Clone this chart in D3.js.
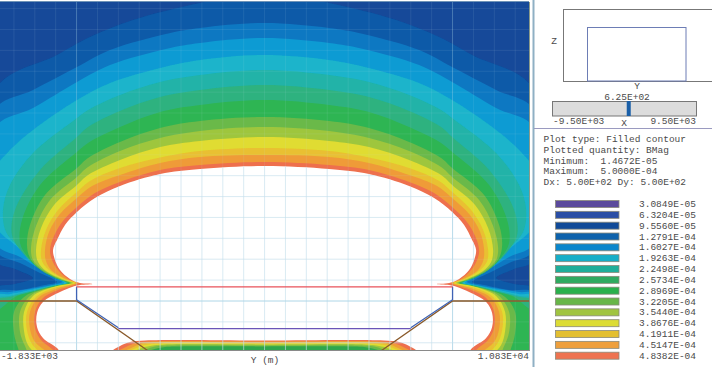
<!DOCTYPE html>
<html>
<head>
<meta charset="utf-8">
<script src="https://cdn.jsdelivr.net/npm/d3@7"></script>
<style>
  html, body { margin: 0; padding: 0; background: #fff; overflow: hidden; }
  svg { display: block; }
  text { font-family: "Liberation Mono", monospace; font-size: 9.5px; fill: #4a4a4a; }
</style>
</head>
<body>
<div id="chart"></div>
<script>
(function () {
  // Left half of each BMag contour, [Y, Z] in metres. The field is mirrored about Y = 4500.
  const contour3 = [[4500,7397],[2955,7134],[1351,6727],[322,6320],[-468,5889],[-1953,5051],[-1953,982],[-1474,766],[-1043,551],[-1474,407],[-1953,287],[-1953,-1412]];
  const contour4 = [[4500,6655],[2955,6536],[2165,6400],[800,6009],[10,5602],[-1043,5051],[-1953,4573],[-1953,1221],[-1354,910],[-923,694],[-468,455],[-756,383],[-1354,263],[-1953,192],[-1953,-1412]];
  const contour5 = [[4500,6296],[2955,6177],[2165,6040],[800,5650],[10,5243],[-1043,4620],[-1953,4142],[-1953,1389],[-1354,1053],[-875,766],[-516,551],[-349,455],[-588,383],[-1115,287],[-1594,215],[-1953,168],[-1953,-1412]];
  const contour6 = [[4500,5889],[2955,5770],[2000,5578],[800,5219],[10,4812],[-1043,4094],[-1594,3615],[-1953,3136],[-1953,1819],[-1474,1341],[-1115,1053],[-756,790],[-397,551],[-301,431],[-516,383],[-1115,263],[-1594,168],[-1953,120],[-1953,-1412]];
  const contour7 = [[4500,5530],[2955,5410],[2000,5243],[1040,4932],[274,4573],[10,4381],[-1043,3543],[-1594,2777],[-1761,2179],[-1689,1652],[-1354,1269],[-995,982],[-636,694],[-253,431],[-636,359],[-1115,239],[-1594,120],[-1953,48],[-1953,-1412]];
  const contour8 = [[4500,5171],[2955,5051],[2000,4884],[1040,4549],[274,4166],[10,3926],[-875,3136],[-1474,2179],[-1546,1580],[-1306,1173],[-971,838],[-564,575],[-229,431],[-564,359],[-1115,215],[-1594,96],[-1953,0],[-1953,-1412]];
  const contour9 = [[4500,4812],[2955,4692],[2000,4525],[1040,4166],[274,3783],[10,3567],[-875,2777],[-1306,1939],[-1354,1389],[-1187,1077],[-923,790],[-516,551],[-205,431],[-516,359],[-995,239],[-1474,96],[-1713,-96],[-1953,-335],[-1953,-1412]];
  const contour10 = [[4500,4405],[2955,4309],[2000,4142],[1040,3806],[274,3423],[10,3184],[-756,2538],[-1115,1819],[-1187,1341],[-1115,1029],[-851,742],[-421,527],[-157,431],[-444,359],[-875,263],[-1258,96],[-1498,-263],[-1498,-766],[-1402,-1125],[-1258,-1412]];
  const contour11 = [[4500,4166],[2955,4070],[2000,3902],[1040,3591],[274,3208],[10,2969],[-636,2418],[-971,1796],[-1091,1269],[-1043,982],[-804,742],[-397,527],[-133,431],[-397,359],[-756,287],[-1115,120],[-1354,-263],[-1354,-742],[-1234,-1077],[-1043,-1365]];
  const contour12 = [[4500,3926],[2955,3830],[2000,3687],[1040,3376],[274,3016],[10,2777],[-540,2298],[-851,1748],[-971,1221],[-923,934],[-732,718],[-349,527],[-85,431],[-349,383],[-636,311],[-1043,120],[-1258,-263],[-1258,-718],[-1163,-1053],[-923,-1317],[-780,-1460]];
  const contour13 = [[4500,3663],[2955,3591],[2000,3435],[1040,3184],[322,2873],[10,2609],[-444,2179],[-732,1700],[-851,1221],[-828,958],[-660,742],[-301,527],[-37,431],[-301,359],[-540,311],[-971,96],[-1187,-263],[-1187,-694],[-1067,-1029],[-828,-1269],[-636,-1412]];
  const contour14 = [[4500,3495],[2955,3447],[2000,3304],[1040,3016],[370,2753],[10,2466],[-397,2083],[-660,1652],[-756,1221],[-732,958],[-588,718],[-253,527],[-14,431],[-253,359],[-492,287],[-923,72],[-1115,-263],[-1115,-670],[-995,-982],[-708,-1221],[-516,-1412]];
  const contour15 = [[4500,3328],[2955,3256],[2000,3136],[1040,2849],[441,2586],[10,2250],[-325,1915],[-540,1556],[-636,1221],[-588,982],[-444,742],[-205,527],[34,431],[-205,335],[-444,263],[-815,60],[-995,-263],[-995,-646],[-851,-934],[-564,-1173],[-397,-1412]];
  const contourTop = [[4500,3232],[2955,3160],[2000,3040],[1040,2753],[441,2466],[10,2131],[-277,1819],[-468,1460],[-564,1221],[-516,982],[-397,742],[-157,527],[82,431],[393,407],[82,383],[-109,335],[-397,215],[-804,-24],[-947,-287],[-947,-622],[-804,-886],[-468,-1125],[-253,-1365]];

  const contours = [contour3, contour4, contour5, contour6, contour7, contour8, contour9, contour10, contour11, contour12, contour13, contour14, contour15, contourTop];
  const contourColors = ["#0e5aa8", "#0a78c2", "#0c9bd3", "#1ab4cb", "#20b3a8", "#2eb27f", "#2fb552", "#6ab94a", "#9ec63e", "#e0dc30", "#e9c030", "#ef9b38", "#ee6f4e", "#ffffff"];

  // Low field pocket under the inner conductor, outermost first
  const pocket15 = [[848,-1221],[1040,-1077],[1279,-982],[1638,-946],[2476,-934],[4500,-946]];
  const pocket14 = [[992,-1221],[1183,-1101],[1423,-1005],[1758,-970],[4500,-970]];
  const pocket13 = [[1136,-1221],[1303,-1125],[1543,-1029],[1878,-994],[4500,-994]];
  const pocket12 = [[1231,-1221],[1423,-1125],[1638,-1053],[2000,-1017],[4500,-1017]];
  const pocket11 = [[1375,-1221],[1566,-1125],[1758,-1077],[2117,-1041],[4500,-1041]];
  const pocket10 = [[1519,-1221],[1686,-1149],[1878,-1089],[2237,-1065],[4500,-1065]];
  const pocket9 = [[1686,-1221],[1830,-1161],[2117,-1101],[2476,-1089],[4500,-1089]];

  const pockets = [pocket15, pocket14, pocket13, pocket12, pocket11, pocket10, pocket9];
  const pocketColors = ["#ee6f4e", "#ef9b38", "#e9c030", "#e0dc30", "#9ec63e", "#6ab94a", "#2fa64e"];

  // Conductor outlines, [Y, Z] in metres
  const redLine = [[0,340],[9000,340]];
  const blueLine = [[0,340],[0,30],[1000,-640]];
  const blueLineRight = [[9000,340],[9000,30],[8000,-640]];
  const purpleLine = [[1000,-660],[8000,-660]];
  const brownLine = [[-1833,0],[0,0],[1700,-1185]];
  const brownLineRight = [[10830,0],[9000,0],[7300,-1185]];

  const legendLevels = ["3.0849E-05", "6.3204E-05", "9.5560E-05", "1.2791E-04", "1.6027E-04", "1.9263E-04", "2.2498E-04", "2.5734E-04", "2.8969E-04", "3.2205E-04", "3.5440E-04", "3.8676E-04", "4.1911E-04", "4.5147E-04", "4.8382E-04"];
  const legendColors = ["#5b4a9c", "#2a4ea5", "#104a98", "#0e62ac", "#0a86cc", "#16aec8", "#1fae9a", "#2faa60", "#29b04c", "#67b648", "#a0c440", "#dcdc35", "#e3bf30", "#ee9f3c", "#ee7350"];

  const infoLines = ["Plot type: Filled contour", "Plotted quantity: BMag", "Minimum:  1.4672E-05", "Maximum:  5.0000E-04", "Dx: 5.00E+02 Dy: 5.00E+02"];

  const sliderRange = [-9500, 9500];
  const sliderValue = 625;

  const svg = d3.select("#chart").append("svg")
    .attr("width", 712)
    .attr("height", 367);

  const x = d3.scaleLinear().domain([-1833, 10830]).range([0, 529]);
  const y = d3.scaleLinear().domain([-1185, 7158]).range([350.5, 2]);

  const mirror = function (points) {
    const back = points.slice().reverse()
      .filter(function (d) { return d[0] !== 4500; })
      .map(function (d) { return [9000 - d[0], d[1]]; });
    return points.concat(back);
  };

  const line = d3.line()
    .x(function (d) { return x(d[0]); })
    .y(function (d) { return y(d[1]); });

  const smooth = d3.line()
    .x(function (d) { return x(d[0]); })
    .y(function (d) { return y(d[1]); })
    .curve(d3.curveCatmullRomClosed.alpha(0.5));

  // The reference is a soft scan, so the bands get a light blur
  svg.append("filter").attr("id", "soften")
    .append("feGaussianBlur").attr("stdDeviation", 0.7);

  svg.append("clipPath").attr("id", "plot-clip")
    .append("rect")
    .attr("x", x.range()[0])
    .attr("y", y.range()[1])
    .attr("width", x.range()[1] - x.range()[0])
    .attr("height", y.range()[0] - y.range()[1]);

  svg.append("clipPath").attr("id", "hole-clip")
    .append("path")
    .attr("d", smooth(mirror(contourTop)));

  const plot = svg.append("g").attr("clip-path", "url(#plot-clip)");
  const field = plot.append("g").attr("filter", "url(#soften)");

  field.append("rect")
    .attr("x", -10).attr("y", -10)
    .attr("width", 560).attr("height", 380)
    .attr("fill", "#134a99");

  field.selectAll("path.band").data(contours).enter().append("path")
    .attr("class", "band")
    .attr("d", function (d) { return smooth(mirror(d)); })
    .attr("fill", function (d, i) { return contourColors[i]; });

  field.selectAll("path.pocket").data(pockets).enter().append("path")
    .attr("class", "pocket")
    .attr("d", function (d) { return smooth(mirror(d)); })
    .attr("fill", function (d, i) { return pocketColors[i]; });

  // Grid every 500 m, the zone boundaries stand out. Barely visible over the colours,
  // full strength inside the white hole.
  const isZone = function (d) { return d === 0 || d === 9000; };

  const drawGrid = function (parent, opacity, zoneOpacity) {
    parent.selectAll("line.gridy").data(d3.range(-1500, 11000, 500)).enter().append("line")
      .attr("class", "gridy")
      .attr("x1", function (d) { return x(d); })
      .attr("x2", function (d) { return x(d); })
      .attr("y1", y.range()[0])
      .attr("y2", y.range()[1])
      .attr("stroke", function (d) { return isZone(d) ? "#a9d3e6" : "#c6e0ec"; })
      .attr("stroke-opacity", function (d) { return isZone(d) ? zoneOpacity : opacity; });

    parent.selectAll("line.gridz").data(d3.range(-1000, 7500, 500)).enter().append("line")
      .attr("class", "gridz")
      .attr("x1", x.range()[0])
      .attr("x2", x.range()[1])
      .attr("y1", function (d) { return y(d); })
      .attr("y2", function (d) { return y(d); })
      .attr("stroke", function (d) { return d === 0 ? "#a9d3e6" : "#c6e0ec"; })
      .attr("stroke-opacity", function (d) { return d === 0 ? zoneOpacity : opacity; });
  };

  drawGrid(plot.append("g"), 0.1, 0.35);
  drawGrid(plot.append("g").attr("clip-path", "url(#hole-clip)"), 0.6, 0.7);

  const conductor = function (points, color) {
    plot.append("path")
      .attr("d", line(points))
      .attr("fill", "none")
      .attr("stroke", color)
      .attr("stroke-width", 1.3);
  };
  conductor(brownLine, "#8a5a2a");
  conductor(brownLineRight, "#8a5a2a");
  conductor(blueLine, "#3f63b5");
  conductor(blueLineRight, "#3f63b5");
  conductor(redLine, "#e8525a");
  conductor(purpleLine, "#6a55b8");

  // Plot frame
  svg.append("line").attr("x1", 0).attr("x2", 529).attr("y1", 1.5).attr("y2", 1.5).attr("stroke", "#6f94b8");
  svg.append("line").attr("x1", 0).attr("x2", 529).attr("y1", 350.5).attr("y2", 350.5).attr("stroke", "#8a8a8a");
  svg.append("line").attr("x1", 529.5).attr("x2", 529.5).attr("y1", 2).attr("y2", 351).attr("stroke", "#8a9a8a");

  svg.append("text").attr("x", 1).attr("y", 359).text("-1.833E+03");
  svg.append("text").attr("x", 529).attr("y", 359).attr("text-anchor", "end").text("1.083E+04");
  svg.append("text").attr("x", 265).attr("y", 363).attr("text-anchor", "middle").text("Y (m)");

  // Side panel
  svg.append("line").attr("x1", 533.5).attr("x2", 533.5).attr("y1", 0).attr("y2", 367).attr("stroke", "#8fb0c4").attr("stroke-width", 2);
  svg.append("line").attr("x1", 534).attr("x2", 712).attr("y1", 128.5).attr("y2", 128.5).attr("stroke", "#9a9ac0");

  // Position view
  svg.append("rect").attr("x", 563.5).attr("y", 9.5).attr("width", 160).attr("height", 72)
    .attr("fill", "none").attr("stroke", "#777");
  svg.append("rect").attr("x", 587.5).attr("y", 27.5).attr("width", 98.5).attr("height", 53.5)
    .attr("fill", "none").attr("stroke", "#6d7db5");
  svg.append("text").attr("x", 554).attr("y", 44).attr("text-anchor", "middle").text("Z");
  svg.append("text").attr("x", 637).attr("y", 88.5).attr("text-anchor", "middle").text("Y");

  const slider = d3.scaleLinear().domain(sliderRange).range([552, 696]);
  svg.append("rect").attr("x", 552.5).attr("y", 101.5).attr("width", 144).attr("height", 14.5)
    .attr("fill", "#dcdcdc").attr("stroke", "#777");
  svg.append("rect").attr("x", slider(sliderValue) - 2).attr("y", 101).attr("width", 4).attr("height", 15)
    .attr("fill", "#1a5fa8");
  svg.append("text").attr("x", 627).attr("y", 99.5).attr("text-anchor", "middle").text("6.25E+02");
  svg.append("text").attr("x", 553).attr("y", 124).text("-9.50E+03");
  svg.append("text").attr("x", 696).attr("y", 124).attr("text-anchor", "end").text("9.50E+03");
  svg.append("text").attr("x", 624).attr("y", 126).attr("text-anchor", "middle").text("X");

  svg.selectAll("text.info").data(infoLines).enter().append("text")
    .attr("class", "info")
    .attr("x", 543.5)
    .attr("y", function (d, i) { return 142 + i * 10.8; })
    .style("white-space", "pre")
    .text(function (d) { return d; });

  // Legend
  const legendY = d3.scalePoint().domain(legendLevels).range([204, 355.7]);

  svg.selectAll("rect.swatch").data(legendLevels).enter().append("rect")
    .attr("class", "swatch")
    .attr("x", 555.5)
    .attr("y", function (d) { return legendY(d) - 3.5; })
    .attr("width", 63.5)
    .attr("height", 7)
    .attr("fill", function (d, i) { return legendColors[i]; })
    .attr("stroke", "#8a8a7a")
    .attr("stroke-width", 0.8);

  svg.selectAll("text.level").data(legendLevels).enter().append("text")
    .attr("class", "level")
    .attr("x", 639)
    .attr("y", function (d) { return legendY(d) + 3; })
    .text(function (d) { return d; });
})();
</script>
</body>
</html>
